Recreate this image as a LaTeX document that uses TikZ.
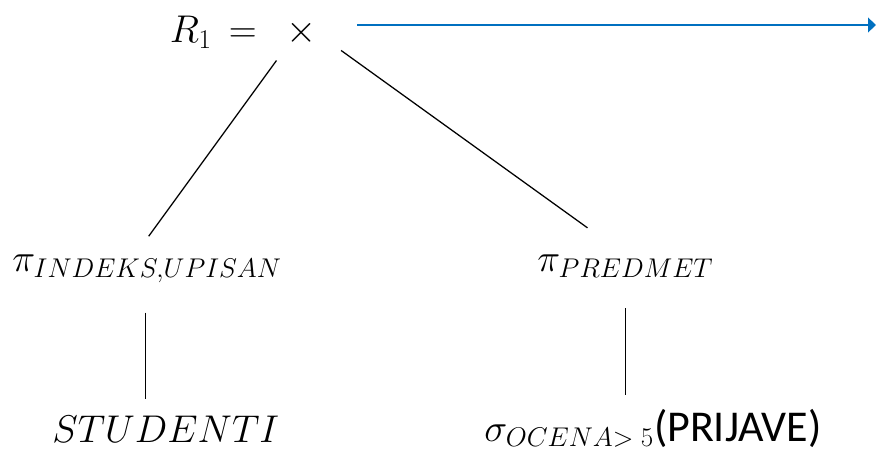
\RequirePackage{fix-cm}
\documentclass[tikz,border=0pt]{standalone}
\usepackage{amsmath}
\usepackage{fontspec}
\newfontfamily\calibri{Carlito}
\usetikzlibrary{arrows.meta}
\usetikzlibrary{positioning}
\definecolor{flowblue}{RGB}{0,112,192}
\tikzset{edge/.style = {line width = 0.95pt}}
\tikzset{flow/.style = {draw = flowblue, line width = 1.6pt,
                        -{Triangle[width = 11pt, length = 6pt]}}}
\tikzset{lbl/.style = {inner sep = 0, font = \fontsize{29}{35}\selectfont}}

\begin{document}
\begin{tikzpicture}[x = 0.75pt, y = -0.75pt]
  \useasboundingbox (0, 0) rectangle (876, 453);

  \node [lbl, anchor = base east] (r1) at (257, 43) {$R_1 \,=$};
  \node [lbl, anchor = base] (cross) at (302, 43) {$\times$};
  \node [lbl, anchor = base west] (pi1) at (12, 272) {$\pi_{INDEKS,UPISAN}$};
  \node [lbl, anchor = base west] (pi2) at (537, 272) {$\pi_{PREDMET}$};
  \node [lbl, anchor = base west] (stud) at (52, 442) {$STUDENTI$};
  \node [lbl, anchor = base west] (sigma) at (484, 441)
        {$\sigma_{OCENA>\;5}${\fontsize{33}{39}\calibri(PRIJAVE)}};
  \coordinate (out) at (876, 25);

  \draw [edge, shorten <= 13pt, shorten >= 17.5pt]
        (cross.south west) -- ([xshift = -9pt]pi1.north);
  \draw [edge, shorten <= 22pt, shorten >= 35pt] (cross.east) -- (pi2.north);
  \draw [edge, shorten <= 22pt, shorten >= 12pt]
        ([xshift = -1pt]pi1.south) -- ([xshift = -1pt]pi1.south |- stud.north);
  \draw [edge, shorten <= 22.5pt, shorten >= 10pt] (pi2.south) -- (pi2.south |- sigma.north);
  \draw [flow, shorten <= 30pt] (cross.east |- out) -- (out);
\end{tikzpicture}
\end{document}
